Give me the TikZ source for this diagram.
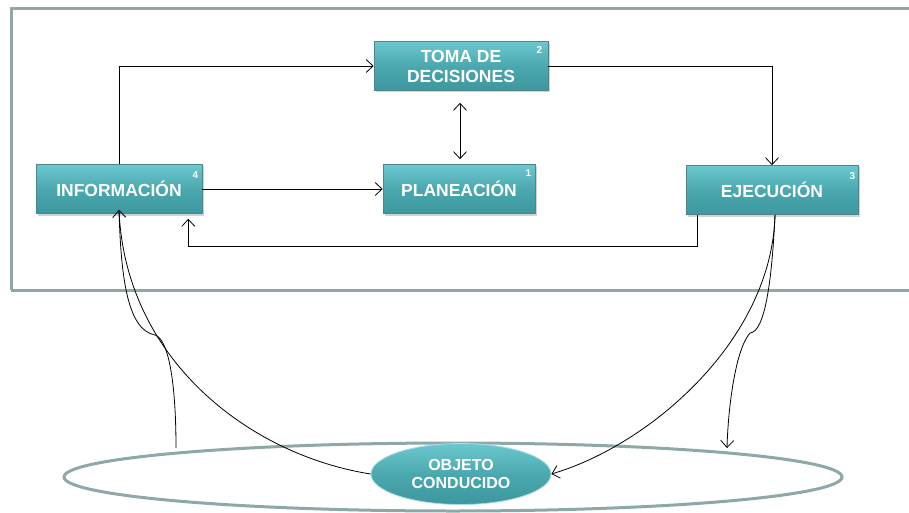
\documentclass[tikz,border=0pt]{standalone}
\usepackage{fontspec}
\setmainfont{Liberation Sans}
\usetikzlibrary{shadows,arrows.meta,shapes.geometric}
\definecolor{frame}{HTML}{8EA8A8}
\definecolor{tealtop}{HTML}{6CC8D0}
\definecolor{tealmid}{HTML}{4AA8AE}
\definecolor{tealbot}{HTML}{3D979E}
\definecolor{tealedge}{HTML}{4F8489}
\begin{document}
\begin{tikzpicture}[x=1pt,y=-1pt,
  box/.style={draw=tealedge,line width=0.6pt,top color=tealtop,bottom color=tealbot,middle color=tealmid,
    drop shadow={shadow xshift=1.5pt,shadow yshift=-2pt,opacity=0.35},
    text=white,font=\bfseries\fontsize{17.5}{20}\selectfont,align=center,inner sep=0pt},
  supnum/.style={text=white,font=\bfseries\fontsize{10}{10}\selectfont,inner sep=0pt},
  tip/.style={Straight Barb[length=7pt,width=13pt,line width=0.8pt]},
  conn/.style={line width=0.8pt,-{Straight Barb[length=7pt,width=13pt]}},
  plain/.style={line width=0.8pt}]
\useasboundingbox (0,0) rectangle (909,513);
% outer frame
\draw[frame,line width=3pt] (11,290) -- (11,9) -- (912,9);
\draw[frame,line width=3pt] (11,290) -- (912,290);
% big ellipse
\draw[frame,line width=3pt] (453,477) ellipse [x radius=389,y radius=34];
% boxes
\node[box,minimum width=174pt,minimum height=49pt] (toma) at (461,66) {TOMA DE\\DECISIONES};
\node[box,minimum width=166pt,minimum height=49pt] (info) at (119,189) {INFORMACIÓN};
\node[box,minimum width=152pt,minimum height=49pt] (plan) at (459,189) {PLANEACIÓN};
\node[box,minimum width=172pt,minimum height=49pt] (ejec) at (772,190) {EJECUCIÓN};
\node[draw=tealtop!60!white,line width=0.8pt,ellipse,top color=tealtop,bottom color=tealbot,middle color=tealmid,
  minimum width=180pt,minimum height=61pt,inner sep=0pt,text=white,font=\bfseries\fontsize{16}{18}\selectfont,align=center] (obj) at (461,474) {OBJETO\\CONDUCIDO};
% numbers
\node[supnum] (s2) at ([xshift=-9pt,yshift=-9pt]toma.north east) {2};
\node[supnum] (s4) at ([xshift=-7pt,yshift=-11pt]info.north east) {4};
\node[supnum] (s1) at ([xshift=-7pt,yshift=-9pt]plan.north east) {1};
\node[supnum] (s3) at ([xshift=-6pt,yshift=-11pt]ejec.north east) {3};
% connectors
\draw[conn] (info.north) |- (toma.west);
\draw[conn] (toma.east) -| (ejec.north);
\draw[line width=0.8pt,{Straight Barb[length=7pt,width=13pt]}-{Straight Barb[length=7pt,width=13pt]},shorten <=12pt,shorten >=5pt] (toma.south -| 460,0) -- (plan.north -| 460,0);
\draw[conn] (info.east) -- (plan.west);
\draw[conn,shorten >=5pt] ([xshift=12pt]ejec.south west) -- ++(0,32) -| ([xshift=-14pt]info.south east);
% curves right
\coordinate (ejb) at ([xshift=3pt]ejec.south);
\coordinate (rk) at (750,333);
\coordinate (re) at (727,448);
\draw[conn] (ejb) .. controls (772,340) and (650,445) .. (obj.east);
\draw[conn] (ejb) .. controls (772,280) and (765,332) .. (rk) .. controls (735,350) and (728,410) .. (re);
% curves left
\coordinate (ib) at ([yshift=4pt]info.south);
\coordinate (lk) at (155,335);
\coordinate (ls) at (176,448);
\draw[plain] (obj.west) .. controls (250,455) and (125,360) .. (ib);
\draw[conn] (ls) .. controls (176,390) and (170,340) .. (lk) .. controls (128,330) and (121,280) .. (ib);
\end{tikzpicture}
\end{document}
